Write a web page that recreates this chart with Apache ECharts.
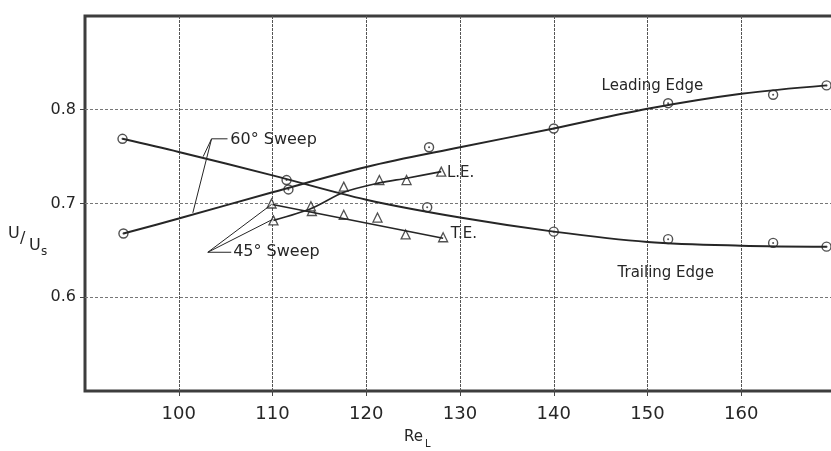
<!DOCTYPE html>
<html>
<head>
<meta charset="utf-8">
<script src="https://cdn.jsdelivr.net/npm/echarts@6/dist/echarts.min.js"></script>
<style>
  html, body { margin: 0; padding: 0; background: #fff; overflow: hidden; }
  #chart { width: 860px; height: 451px; }
</style>
</head>
<body>
<div id="chart"></div>
<script>
// fitted curves, [Re_L, U/Us]
var leadingCurve = [[94.1, 0.668], [100, 0.684], [110, 0.712], [120, 0.739], [130, 0.760],
                    [140, 0.780], [150, 0.801], [160, 0.817], [169.1, 0.826]];
var trailingCurve = [[94.0, 0.769], [100, 0.755], [110, 0.730], [120, 0.704],
                     [130, 0.685], [140, 0.670], [150, 0.659], [160, 0.655], [169.1, 0.654]];
// 60 deg sweep measured points
var leadingPts = [[94.1, 0.668], [111.7, 0.715], [126.7, 0.760], [140, 0.780],
                  [152.2, 0.807], [163.4, 0.816], [169.1, 0.826]];
var trailingPts = [[94.0, 0.769], [111.5, 0.725], [126.5, 0.696], [140, 0.670],
                   [152.2, 0.662], [163.4, 0.658], [169.1, 0.654]];
// 45 deg sweep
var le45Line = [[110.1, 0.682], [114.2, 0.695], [117.6, 0.712], [121.4, 0.722], [124.3, 0.727], [128.0, 0.734]];
var te45Line = [[110.0, 0.699], [128.2, 0.663]];
var le45Pts = [[110.1, 0.682], [114.2, 0.692], [117.6, 0.718], [121.4, 0.725], [124.3, 0.725], [128.0, 0.734]];
var te45Pts = [[109.9, 0.700], [114.1, 0.697], [117.6, 0.688], [121.2, 0.685], [124.2, 0.667], [128.2, 0.664]];

var xTicks = [100, 110, 120, 130, 140, 150, 160];
var yTicks = [0.6, 0.7, 0.8];

// annotation texts and leaders, in data coordinates
var notes = [
  { text: '60° Sweep', at: [105.5, 0.768], size: 16 },
  { text: '45° Sweep', at: [105.8, 0.648], size: 16 },
  { text: 'Leading Edge', at: [145.1, 0.825], size: 15 },
  { text: 'Trailing Edge', at: [146.8, 0.626], size: 15 },
  { text: 'L.E.', at: [128.6, 0.732], size: 15 },
  { text: 'T.E.', at: [129.0, 0.667], size: 15 }
];
var leaders = [
  [[105.2, 0.769], [103.5, 0.769], [102.6, 0.750]],
  [[103.5, 0.769], [101.5, 0.690]],
  [[105.6, 0.648], [103.1, 0.648], [109.9, 0.699]],
  [[103.1, 0.648], [110.0, 0.683]]
];

var ink = '#262626';
var font = 'DejaVu Sans';

var chart = echarts.init(document.getElementById('chart'));

var option = {
  animation: false,
  backgroundColor: '#fff',
  grid: {
    left: 85, top: 16, width: 750, height: 375,
    show: true, borderColor: '#3d3d3d', borderWidth: 3, backgroundColor: 'transparent'
  },
  xAxis: {
    type: 'value', min: 90, max: 170, interval: 10,
    axisLine: { show: false },
    axisTick: { show: true, length: 5, customValues: xTicks, lineStyle: { color: '#444' } },
    axisLabel: {
      margin: 14, fontSize: 18, color: ink, fontFamily: font,
      customValues: xTicks,
      formatter: function (v) { return String(v); }
    },
    splitLine: { show: true, lineStyle: { color: '#555', width: 1, type: [3, 1] } }
  },
  yAxis: {
    type: 'value', min: 0.5, max: 0.9, interval: 0.1,
    axisLine: { show: false },
    axisTick: { show: true, length: 5, customValues: yTicks, lineStyle: { color: '#444' } },
    axisLabel: {
      margin: 9, fontSize: 16, color: ink, fontFamily: font,
      customValues: yTicks,
      formatter: function (v) { return v.toFixed(1); }
    },
    splitLine: { show: true, lineStyle: { color: '#777', width: 1, type: [3, 2] } }
  },
  series: [
    { type: 'line', data: leadingCurve, smooth: 0.35, showSymbol: false, lineStyle: { color: ink, width: 2 } },
    { type: 'line', data: trailingCurve, smooth: 0.35, showSymbol: false, lineStyle: { color: ink, width: 2 } },
    { type: 'line', data: le45Line, smooth: 0.3, showSymbol: false, lineStyle: { color: ink, width: 1.6 } },
    { type: 'line', data: te45Line, showSymbol: false, lineStyle: { color: ink, width: 1.6 } },
    { type: 'scatter', data: leadingPts, symbol: 'circle', symbolSize: 9,
      itemStyle: { color: '#fff', borderColor: ink, borderWidth: 1.4 } },
    { type: 'scatter', data: trailingPts, symbol: 'circle', symbolSize: 9,
      itemStyle: { color: '#fff', borderColor: ink, borderWidth: 1.4 } },
    { type: 'scatter', data: leadingPts.concat(trailingPts), symbol: 'circle', symbolSize: 2,
      itemStyle: { color: ink } },
    { type: 'scatter', data: le45Pts, symbol: 'triangle', symbolSize: 9,
      itemStyle: { color: '#fff', borderColor: ink, borderWidth: 1.3 } },
    { type: 'scatter', data: te45Pts, symbol: 'triangle', symbolSize: 9,
      itemStyle: { color: '#fff', borderColor: ink, borderWidth: 1.3 } }
  ]
};
chart.setOption(option);

// annotations placed from data coords
var gfx = [];
notes.forEach(function (n) {
  var p = chart.convertToPixel({ gridIndex: 0 }, n.at);
  gfx.push({
    type: 'text', x: p[0], y: p[1], z: 10,
    style: { text: n.text, fill: ink, font: n.size + 'px "' + font + '"',
             textVerticalAlign: 'middle', textAlign: 'left' }
  });
});
leaders.forEach(function (l) {
  var pts = l.map(function (d) { return chart.convertToPixel({ gridIndex: 0 }, d); });
  gfx.push({ type: 'polyline', z: 10, shape: { points: pts }, style: { stroke: ink, lineWidth: 1, fill: null } });
});
// axis titles
var tf = function (s) { return s + 'px "' + font + '"'; };
gfx.push(
  { type: 'text', x: 8, y: 234, style: { text: 'U', fill: ink, font: tf(16), textVerticalAlign: 'middle' } },
  { type: 'text', x: 20, y: 239, style: { text: '/', fill: ink, font: tf(16), textVerticalAlign: 'middle' } },
  { type: 'text', x: 29, y: 246, style: { text: 'U', fill: ink, font: tf(16), textVerticalAlign: 'middle' } },
  { type: 'text', x: 41, y: 252, style: { text: 's', fill: ink, font: tf(12), textVerticalAlign: 'middle' } },
  { type: 'text', x: 404, y: 437, style: { text: 'Re', fill: ink, font: tf(15), textVerticalAlign: 'middle' } },
  { type: 'text', x: 425, y: 444, style: { text: 'L', fill: ink, font: tf(10), textVerticalAlign: 'middle' } }
);
chart.setOption({ graphic: { elements: gfx } });
</script>
</body>
</html>
